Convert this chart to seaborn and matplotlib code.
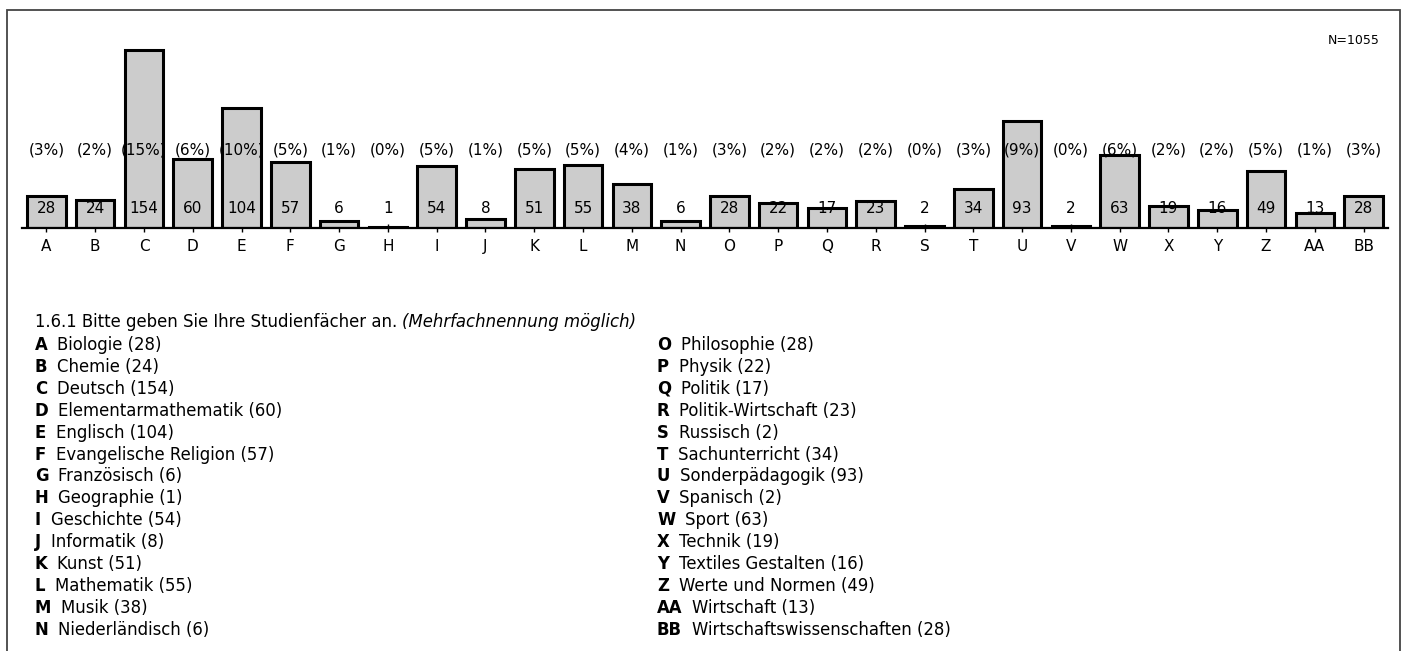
import matplotlib
matplotlib.use("Agg")
import matplotlib.pyplot as plt
import seaborn as sns
import pandas as pd
from matplotlib.patches import Rectangle

# data
letters = ["A", "B", "C", "D", "E", "F", "G", "H", "I", "J", "K", "L", "M", "N",
           "O", "P", "Q", "R", "S", "T", "U", "V", "W", "X", "Y", "Z", "AA", "BB"]
counts = [28, 24, 154, 60, 104, 57, 6, 1, 54, 8, 51, 55, 38, 6,
          28, 22, 17, 23, 2, 34, 93, 2, 63, 19, 16, 49, 13, 28]
percents = [3, 2, 15, 6, 10, 5, 1, 0, 5, 1, 5, 5, 4, 1,
            3, 2, 2, 2, 0, 3, 9, 0, 6, 2, 2, 5, 1, 3]
subjects = ["Biologie", "Chemie", "Deutsch", "Elementarmathematik", "Englisch",
            "Evangelische Religion", "Französisch", "Geographie", "Geschichte",
            "Informatik", "Kunst", "Mathematik", "Musik", "Niederländisch",
            "Philosophie", "Physik", "Politik", "Politik-Wirtschaft", "Russisch",
            "Sachunterricht", "Sonderpädagogik", "Spanisch", "Sport", "Technik",
            "Textiles Gestalten", "Werte und Normen", "Wirtschaft",
            "Wirtschaftswissenschaften"]
n_total = 1055
question = "1.6.1 Bitte geben Sie Ihre Studienfächer an. "
question_note = "(Mehrfachnennung möglich)"

df = pd.DataFrame({"letter": letters, "count": counts})

sns.set_style("white")
plt.rcParams["font.family"] = ["DejaVu Sans"]
plt.rcParams["text.color"] = "black"
plt.rcParams["xtick.color"] = "black"

W, H = 1407, 651
fig = plt.figure(figsize=(W / 100, H / 100), dpi=100)

# outer frame (bottom runs off the picture)
fig.patches.append(Rectangle((7 / W, -0.05), 1393 / W, 1.05 - 10 / H,
                             transform=fig.transFigure, fill=False,
                             edgecolor="#444444", linewidth=1.3))

ax = fig.add_axes([22 / W, 1 - 228 / H, 1366 / W, 188 / H])
sns.barplot(data=df, x="letter", y="count", color="#cccccc", saturation=1,
            edgecolor="black", linewidth=2.2, width=0.79, ax=ax)
ax.set_xlim(-0.5, len(letters) - 0.5)
ax.set_ylim(0, 163)
ax.set_xlabel("")
ax.set_ylabel("")
ax.set_yticks([])
for s in ["top", "left", "right"]:
    ax.spines[s].set_visible(False)
ax.spines["bottom"].set_color("black")
ax.spines["bottom"].set_linewidth(1.6)
ax.tick_params(axis="x", direction="inout", length=6, width=1, color="black",
               labelsize=11, pad=5, bottom=True)
ax.patch.set_alpha(0)

for i, (c, p) in enumerate(zip(counts, percents)):
    ax.text(i, 16.5, str(c), ha="center", va="center", fontsize=11, zorder=5)
    ax.text(i, 67.5, "(%d%%)" % p, ha="center", va="center", fontsize=11, zorder=5)

fig.text(1380 / W, 1 - 41 / H, "N=%d" % n_total, ha="right", va="center", fontsize=9)

# legend text below the chart
t = fig.text(35 / W, 1 - 327 / H, question, ha="left", va="baseline", fontsize=11.9)
ax.annotate(question_note, xy=(1, 0), xycoords=t, ha="left", va="bottom",
            fontsize=11.9, style="italic")

row_h = 21.9
for i, (let, name, c) in enumerate(zip(letters, subjects, counts)):
    col = 0 if i < 14 else 1
    row = i % 14
    x = (35 if col == 0 else 657) / W
    y = 1 - (345 + row * row_h) / H
    lt = fig.text(x, y, let, ha="left", va="center", fontsize=11.9, weight="bold")
    ax.annotate("%s (%d)" % (name, c), xy=(1, 0), xycoords=lt,
                xytext=(7, 0), textcoords="offset points",
                ha="left", va="bottom", fontsize=11.9)

fig.savefig("out.png", dpi=100)
